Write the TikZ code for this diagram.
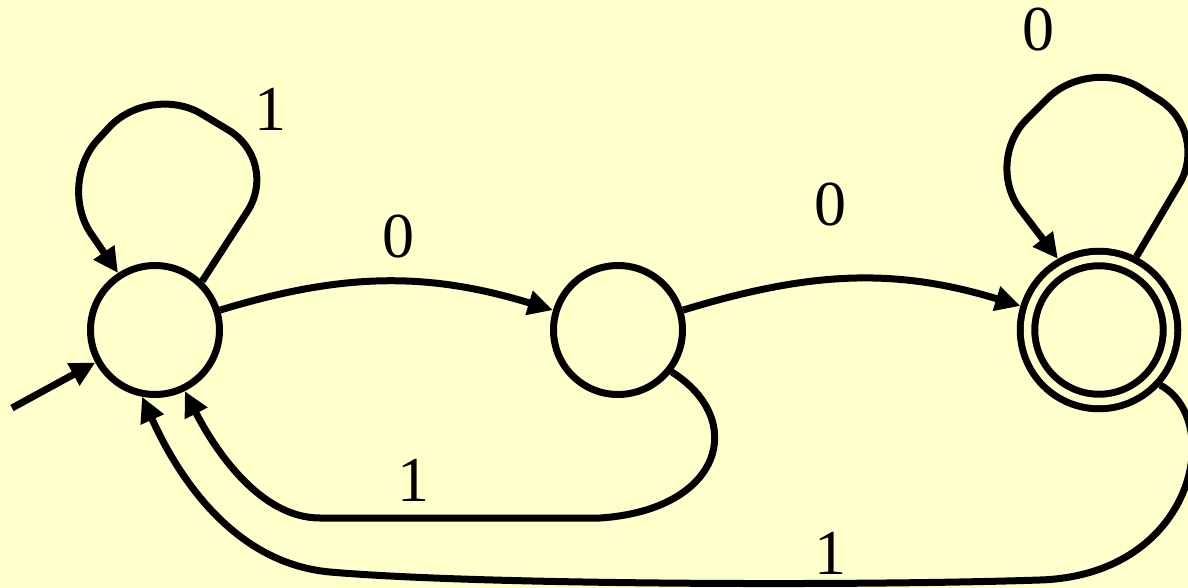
\documentclass[tikz,border=0pt]{standalone}
\usepackage{fontspec}
\setmainfont{Liberation Serif}
\usepackage{tikz}
\usetikzlibrary{arrows.meta}
\definecolor{paleyellow}{HTML}{FFFFCC}
\tikzset{
  statenode/.style={
    circle,
    draw=black,
    line width=7pt,
    minimum size=129pt,
    inner sep=0pt
  },
  acceptnode/.style={
    circle,
    draw=black,
    line width=7pt,
    double=paleyellow,
    double distance=7.5pt,
    minimum size=143pt,
    inner sep=0pt,
    outer sep=10.75pt
  },
  transflow/.style={-{Triangle[length=25pt,width=24pt]},line width=7pt,draw=black},
  loopflow/.style={transflow,rounded corners=60pt},
  translabel/.style={inner sep=0pt,font=\fontsize{64}{70}\selectfont}
}
\begin{document}
\begin{tikzpicture}[x=1pt,y=1pt]
  \fill[paleyellow] (0,0) rectangle (1188,-588);
  \useasboundingbox (0,0) rectangle (1188,-588);
  \node[statenode] (q0) at (155,-330) {};
  \node[statenode] (q1) at (618,-330) {};
  \node[acceptnode] (q2) at (1099,-330) {};
  \coordinate (start) at (12,-408);
  \draw[transflow] (start) -- (q0);
  \draw[loopflow] (q0.46) -- (280,-161) -- (150,-83) -- (57,-184) -- (q0.123);
  \draw[transflow] (q0) to[out=17,in=163] (q1);
  \draw[transflow] (q1) to[out=17,in=163] (q2);
  \draw[loopflow] (q2.63) -- (1210,-132) -- (1090,-56) -- (984,-162) -- (q2.120);
  \draw[transflow] (q1.-38) .. controls (748,-420) and (722,-510) .. (600,-518) -- (320,-518) .. controls (260,-518) and (215,-450) .. (q0.-64);
  \draw[transflow] (q2.-42) .. controls (1225,-420) and (1195,-575) .. (1040,-580) .. controls (860,-586) and (480,-585) .. (330,-572) .. controls (230,-563) and (175,-470) .. (q0.-101);
  \node[translabel] (lab00) at (270,-109) {1};
  \node[translabel] (lab01) at (398,-237) {0};
  \node[translabel] (lab12) at (830,-205) {0};
  \node[translabel] (lab22) at (1038,-30) {0};
  \node[translabel] (lab10) at (413,-480) {1};
  \node[translabel] (lab20) at (830,-553) {1};
\end{tikzpicture}
\end{document}
